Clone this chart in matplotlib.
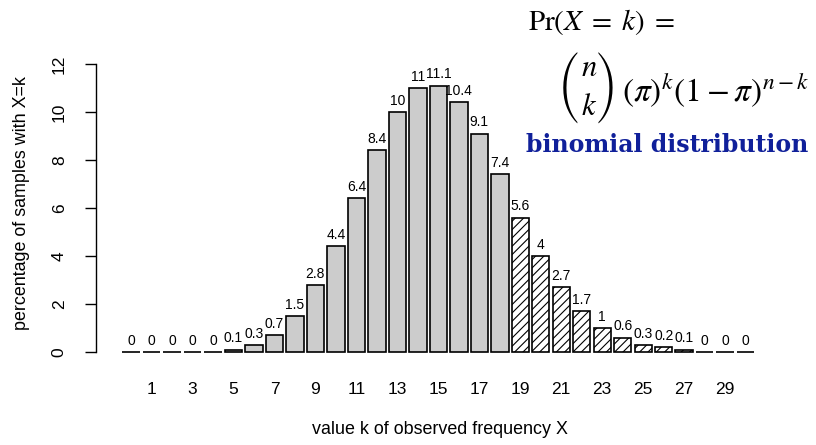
import matplotlib.pyplot as plt
import numpy as np

plt.rcParams['font.family'] = ['Liberation Sans', 'DejaVu Sans']
plt.rcParams['mathtext.fontset'] = 'stix'
plt.rcParams['hatch.linewidth'] = 0.8

# percentages, k = 0..30
k = np.arange(31)
pct = [0, 0, 0, 0, 0, 0.1, 0.3, 0.7, 1.5, 2.8, 4.4, 6.4, 8.4, 10, 11, 11.1,
       10.4, 9.1, 7.4, 5.6, 4, 2.7, 1.7, 1, 0.6, 0.3, 0.2, 0.1, 0, 0, 0]
labels = ["0", "0", "0", "0", "0", "0.1", "0.3", "0.7", "1.5", "2.8", "4.4",
          "6.4", "8.4", "10", "11", "11.1", "10.4", "9.1", "7.4", "5.6", "4",
          "2.7", "1.7", "1", "0.6", "0.3", "0.2", "0.1", "0", "0", "0"]
cutoff = 19  # bars from here on are hatched
xticks = np.arange(1, 30, 2)

fig = plt.figure(figsize=(8.16, 4.45), dpi=100)
ax = fig.add_axes([96 / 816, 1 - 360 / 445, (760 - 96) / 816, (360 - 40) / 445])

for i, v in zip(k, pct):
    if i < cutoff:
        ax.bar(i, v, width=0.85, color='#cccccc', edgecolor='black', linewidth=1.2)
    else:
        ax.bar(i, v, width=0.85, color='white', edgecolor='black', linewidth=1.2,
               hatch='////')
    ax.annotate(labels[i], (i, v), xytext=(0, 3), textcoords='offset points',
                ha='center', va='bottom', fontsize=10)

ax.set_xlim(-1.71, 30.7)
ax.set_ylim(-1 / 3, 13)
ax.set_xticks(xticks)
ax.set_xticklabels([str(t) for t in xticks], fontsize=12.5)
ax.tick_params(axis='x', length=0, pad=16)
ax.set_yticks(np.arange(0, 13, 2))
ax.set_yticklabels([str(t) for t in range(0, 13, 2)], fontsize=12.5,
                   rotation=90, va='center')
ax.tick_params(axis='y', length=8, width=1, pad=13)
for s in ['top', 'right', 'bottom']:
    ax.spines[s].set_visible(False)
ax.spines['left'].set_bounds(0, 12)
ax.spines['left'].set_linewidth(1)

fig.text(22 / 816, 1 - 203 / 445, 'percentage of samples with X=k', rotation=90,
         ha='center', va='center', fontsize=12.9)
fig.text(440 / 816, 1 - 430 / 445, 'value k of observed frequency X',
         ha='center', va='center', fontsize=12.9)

# formula, built from pieces so the binomial gets tall brackets
fig.text(528 / 816, 1 - 22 / 445, r'$\mathrm{Pr}(X\;=\;k)\;=$', fontsize=21,
         ha='left', va='center')
fig.text(569 / 816, 1 - 88 / 445, '(', family='STIXSizeThreeSym', fontsize=21,
         ha='center', va='center')
fig.text(607 / 816, 1 - 88 / 445, ')', family='STIXSizeThreeSym', fontsize=21,
         ha='center', va='center')
fig.text(589 / 816, 1 - 68 / 445, r'$n$', fontsize=22, ha='center', va='center')
fig.text(589 / 816, 1 - 107 / 445, r'$k$', fontsize=22, ha='center', va='center')
fig.text(622 / 816, 1 - 91 / 445, r'$(\pi)^{k}(1-\pi)^{n-k}$', fontsize=24,
         ha='left', va='center')
fig.text(667 / 816, 1 - 145 / 445, 'binomial distribution', color='#10209a',
         fontsize=17, fontweight='bold', family='DejaVu Serif',
         ha='center', va='center')

fig.savefig('out.png', dpi=100)
